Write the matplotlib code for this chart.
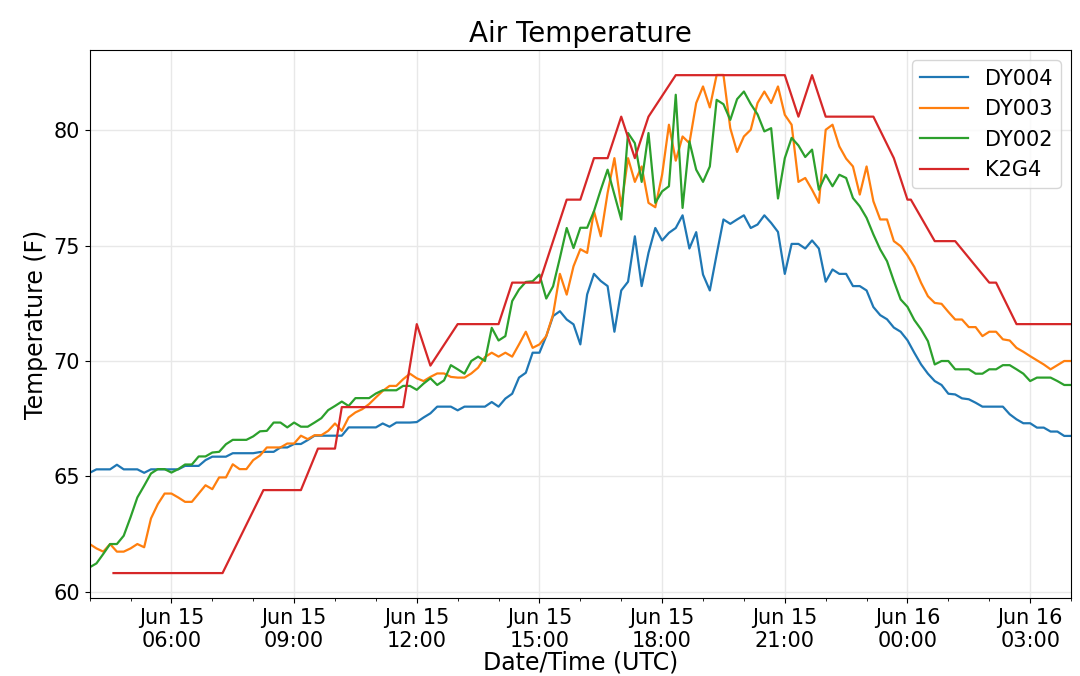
import matplotlib
matplotlib.use("Agg")
import matplotlib.pyplot as plt
import matplotlib.dates as mdates
import pandas as pd

# 10-minute station readings, Jun 15 04:00 to Jun 16 04:00 (UTC)
times = pd.date_range("2019-06-15 04:00", "2019-06-16 04:00", freq="10min")

dy004 = [
    65.15, 65.3, 65.3, 65.3, 65.5, 65.3, 65.3, 65.3, 65.15, 65.3, 65.3, 65.3, 65.3,
    65.3, 65.45, 65.45, 65.45, 65.7, 65.85, 65.85, 65.85, 66.0, 66.0, 66.0, 66.0, 66.05,
    66.06, 66.06, 66.25, 66.25, 66.4, 66.4, 66.57, 66.76, 66.76, 66.76, 66.76, 66.76,
    67.12, 67.12, 67.12, 67.12, 67.12, 67.29, 67.15, 67.33, 67.33, 67.33,
    67.35, 67.55, 67.73, 68.02, 68.02, 68.02, 67.86, 68.02, 68.02, 68.02, 68.02, 68.22,
    68.02, 68.37, 68.58, 69.28, 69.49, 70.36, 70.36, 71.08, 71.95, 72.16, 71.8, 71.59,
    70.72, 72.89, 73.78, 73.47, 73.25, 71.27, 73.06, 73.44, 75.41, 73.25, 74.69, 75.77,
    75.23, 75.56, 75.77, 76.32, 74.88, 75.59, 73.75, 73.06, 74.62, 76.14, 75.95, 76.14, 76.32,
    75.77, 75.92, 76.32, 75.99, 75.6, 73.78, 75.08, 75.08, 74.88, 75.23, 74.88, 73.44,
    73.97, 73.78, 73.78, 73.25, 73.25, 73.06, 72.34, 71.99, 71.81, 71.45, 71.27, 70.9, 70.36,
    69.85, 69.45, 69.13, 68.96, 68.58, 68.55, 68.38, 68.34, 68.19, 68.02, 68.02, 68.02,
    68.02, 67.69, 67.47, 67.3, 67.3, 67.11, 67.11, 66.94, 66.94, 66.75, 66.75,
]

dy003 = [
    62.06, 61.87, 61.73, 62.06, 61.73, 61.73, 61.87, 62.06, 61.92, 63.17, 63.79, 64.25, 64.25,
    64.08, 63.89, 63.89, 64.25, 64.61, 64.44, 64.95, 64.95, 65.52, 65.31, 65.31, 65.7, 65.9,
    66.25, 66.25, 66.25, 66.42, 66.42, 66.76, 66.61, 66.78, 66.78, 66.97, 67.29, 66.97,
    67.55, 67.77, 67.91, 68.13, 68.42, 68.7, 68.92, 68.92, 69.21, 69.45,
    69.25, 69.13, 69.31, 69.46, 69.46, 69.31, 69.28, 69.28, 69.46, 69.71, 70.17, 70.36,
    70.19, 70.36, 70.19, 70.72, 71.27, 70.57, 70.72, 71.08, 72.02, 73.78, 72.88, 74.11,
    74.85, 74.69, 76.5, 75.41, 77.29, 78.8, 76.71, 78.8, 77.77, 78.44, 76.86, 76.67,
    78.08, 80.25, 78.69, 79.74, 79.45, 81.19, 81.91, 81.0, 82.41, 82.41, 80.1, 79.07, 79.74,
    80.03, 81.19, 81.69, 81.19, 81.91, 80.68, 80.25, 77.77, 77.94, 77.43, 76.86, 80.03,
    80.25, 79.31, 78.78, 78.44, 77.22, 78.44, 76.93, 76.14, 76.14, 75.2, 74.98, 74.58, 74.08,
    73.39, 72.81, 72.52, 72.48, 72.13, 71.8, 71.8, 71.47, 71.47, 71.08, 71.27, 71.27,
    70.94, 70.89, 70.57, 70.4, 70.21, 70.03, 69.85, 69.64, 69.82, 70.0, 70.0,
]

dy002 = [
    61.05, 61.22, 61.63, 62.06, 62.06, 62.42, 63.22, 64.08, 64.59, 65.12, 65.31, 65.31, 65.16,
    65.31, 65.51, 65.51, 65.86, 65.86, 66.03, 66.06, 66.39, 66.58, 66.58, 66.58, 66.73, 66.95,
    66.97, 67.33, 67.33, 67.12, 67.33, 67.15, 67.15, 67.33, 67.52, 67.87, 68.05, 68.24,
    68.05, 68.39, 68.39, 68.39, 68.59, 68.73, 68.73, 68.73, 68.92, 68.92,
    68.75, 69.02, 69.25, 68.96, 69.16, 69.82, 69.64, 69.45, 70.0, 70.19, 70.0, 71.44,
    70.89, 71.08, 72.6, 73.1, 73.43, 73.46, 73.75, 72.71, 73.24, 74.47, 75.77, 74.9,
    75.78, 75.78, 76.5, 77.43, 78.3, 77.22, 76.14, 79.89, 79.45, 77.77, 79.89, 76.86,
    77.36, 77.58, 81.55, 76.64, 79.53, 78.3, 77.77, 78.44, 81.33, 81.14, 80.46, 81.36, 81.69,
    81.15, 80.7, 79.96, 80.1, 77.05, 78.8, 79.68, 79.35, 78.85, 79.17, 77.43, 78.08,
    77.58, 78.08, 77.94, 77.07, 76.71, 76.21, 75.49, 74.84, 74.33, 73.47, 72.67, 72.35, 71.78,
    71.37, 70.86, 69.85, 70.0, 70.0, 69.64, 69.64, 69.64, 69.45, 69.45, 69.64, 69.64,
    69.82, 69.82, 69.64, 69.45, 69.13, 69.28, 69.28, 69.28, 69.13, 68.96, 68.96,
]

# K2G4 airport reports (irregular times, whole degrees C converted to F)
k2g4_times = pd.to_datetime([
    "2019-06-15 04:35", "2019-06-15 07:15", "2019-06-15 08:15", "2019-06-15 09:10",
    "2019-06-15 09:35", "2019-06-15 10:00", "2019-06-15 10:10", "2019-06-15 11:40",
    "2019-06-15 12:00", "2019-06-15 12:20", "2019-06-15 13:00", "2019-06-15 14:00",
    "2019-06-15 14:20", "2019-06-15 15:00", "2019-06-15 15:40", "2019-06-15 16:00",
    "2019-06-15 16:20", "2019-06-15 16:40", "2019-06-15 17:00", "2019-06-15 17:20",
    "2019-06-15 17:40", "2019-06-15 18:20", "2019-06-15 21:00", "2019-06-15 21:20",
    "2019-06-15 21:40", "2019-06-15 22:00", "2019-06-15 23:10", "2019-06-15 23:40",
    "2019-06-16 00:00", "2019-06-16 00:05", "2019-06-16 00:40", "2019-06-16 01:10",
    "2019-06-16 02:00", "2019-06-16 02:10", "2019-06-16 02:40", "2019-06-16 04:00",
])
k2g4 = [
    60.8, 60.8, 64.4, 64.4, 66.2, 66.2, 68.0, 68.0, 71.6, 69.8, 71.6, 71.6,
    73.4, 73.4, 77.0, 77.0, 78.8, 78.8, 80.6, 78.8, 80.6, 82.4, 82.4, 80.6,
    82.4, 80.6, 80.6, 78.8, 77.0, 77.0, 75.2, 75.2, 73.4, 73.4, 71.6, 71.6,
]

fig = plt.figure(figsize=(10.8, 6.76), dpi=100)
ax = fig.add_axes([0.083, 0.1154, 0.9087, 0.8106])

ax.plot(times, dy004, color="tab:blue", lw=1.6, label="DY004")
ax.plot(times, dy003, color="tab:orange", lw=1.6, label="DY003")
ax.plot(times, dy002, color="tab:green", lw=1.6, label="DY002")
ax.plot(k2g4_times, k2g4, color="tab:red", lw=1.6, label="K2G4")

ax.set_xlim(times[0], times[-1])
ax.xaxis.set_major_locator(mdates.HourLocator(byhour=range(0, 24, 3)))
ax.xaxis.set_minor_locator(mdates.HourLocator())
ax.xaxis.set_major_formatter(mdates.DateFormatter("%b %d\n%H:%M"))
ax.set_yticks([60, 65, 70, 75, 80])
ax.tick_params(labelsize=15)

ax.grid(True, which="major", color="#e8e8e8", linewidth=1.0)
ax.set_axisbelow(True)

ax.set_title("Air Temperature", fontsize=20)
ax.set_xlabel("Date/Time (UTC)", fontsize=17, labelpad=0)
ax.set_ylabel("Temperature (F)", fontsize=17)
ax.legend(loc="upper right", fontsize=15, handlelength=2.3)

fig.savefig("out.png", dpi=100)
